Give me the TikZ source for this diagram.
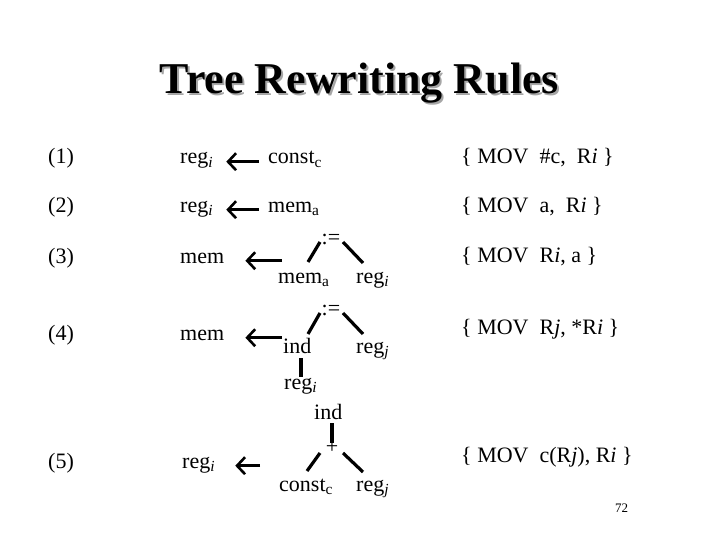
\documentclass[tikz,border=0pt]{standalone}
\usepackage{fontspec}
\setmainfont{Liberation Serif}
\usetikzlibrary{arrows.meta}
\newcommand{\sbi}[1]{\textsubscript{\itshape #1}}
\newcommand{\sbu}[1]{\textsubscript{#1}}
\begin{document}
\begin{tikzpicture}[x=1pt,y=-1pt,
  txt/.style={anchor=base west,inner sep=0pt,font=\fontsize{22}{26}\selectfont},
  op/.style={anchor=base,inner sep=0pt,font=\fontsize{22}{26}\selectfont},
  branch/.style={line width=3.2pt},
  larr/.style={line width=2.6pt,-{Straight Barb[length=8pt,width=17pt]}},
  ttl/.style={anchor=base,inner sep=0pt,font=\fontsize{44}{50}\selectfont\bfseries}]
\useasboundingbox (0,0) rectangle (720,540);
% title
\node[ttl,text=black!35] (tsh) at (361.5,95.5) {Tree Rewriting Rules};
\node[ttl] (title) at (359.5,93.5) {Tree Rewriting Rules};
% numbers
\node[txt] (n1) at (48,164) {(1)};
\node[txt] (n2) at (48,212) {(2)};
\node[txt] (n3) at (48,263) {(3)};
\node[txt] (n4) at (48,340) {(4)};
\node[txt] (n5) at (48,468) {(5)};
% row 1
\node[txt] (r1) at (180,164) {reg\sbi{i}};
\node[txt] (c1) at (268,164) {const\sbu{c}};
\draw[larr] ([xshift=-9pt]c1.mid west) -- ([xshift=13pt]r1.mid east);
% row 2
\node[txt] (r2) at (180,212) {reg\sbi{i}};
\node[txt] (m2) at (268,212) {mem\sbu{a}};
\draw[larr] ([xshift=-9pt]m2.mid west) -- ([xshift=13pt]r2.mid east);
% row 3
\node[txt] (m3) at (180,263) {mem};
\coordinate (a3) at (282,258);
\draw[larr] (a3 |- m3.mid east) -- ([xshift=21pt]m3.mid east);
\node[op] (as3) at (331,244) {:=};
\node[txt] (ma3) at (278,283) {mem\sbu{a}};
\node[txt] (ri3) at (356,283) {reg\sbi{i}};
\draw[branch] ([xshift=-11pt,yshift=2pt]as3.base) -- ([xshift=30pt,yshift=21pt]ma3.base west);
\draw[branch] ([xshift=12pt,yshift=2pt]as3.base) -- ([xshift=7pt,yshift=20pt]ri3.base west);
% row 4
\node[txt] (m4) at (180,340) {mem};
\coordinate (a4) at (282,335);
\draw[larr] (a4 |- m4.mid east) -- ([xshift=21pt]m4.mid east);
\node[op] (as4) at (331,315) {:=};
\node[txt] (in4) at (283,353) {ind};
\node[txt] (rj4) at (356,353) {reg\sbi{j}};
\draw[branch] ([xshift=-11pt,yshift=2pt]as4.base) -- ([xshift=25pt,yshift=19pt]in4.base west);
\draw[branch] ([xshift=12pt,yshift=2pt]as4.base) -- ([xshift=7pt,yshift=19pt]rj4.base west);
\node[txt] (ri4) at (284,389) {reg\sbi{i}};
\draw[branch] ([xshift=18pt,yshift=-5pt]in4.base west) -- ([xshift=17pt,yshift=12pt]ri4.base west);
\node[txt] (in5) at (314,419) {ind};
\node[op] (pl5) at (332,453) {+};
\draw[branch] ([xshift=18pt,yshift=-4pt]in5.base west) -- ([yshift=10pt]pl5.base);
% row 5
\node[txt] (r5) at (182,468) {reg\sbi{i}};
\coordinate (a5) at (260,462);
\draw[larr] (a5 |- r5.mid east) -- ([xshift=20pt]r5.mid east);
\node[txt] (cc5) at (279,491) {const\sbu{c}};
\node[txt] (rj5) at (356,491) {reg\sbi{j}};
\draw[branch] ([xshift=-12pt,yshift=0pt]pl5.base) -- ([xshift=28pt,yshift=20pt]cc5.base west);
\draw[branch] ([xshift=11pt,yshift=0pt]pl5.base) -- ([xshift=7pt,yshift=19pt]rj5.base west);
% right column
\node[txt] (i1) at (461,164) {\{ MOV~ \#c,~ R\textit{i} \}};
\node[txt] (i2) at (461,212) {\{ MOV~ a,~ R\textit{i} \}};
\node[txt] (i3) at (461,262) {\{ MOV~ R\textit{i}, a \}};
\node[txt] (i4) at (461,334) {\{ MOV~ R\textit{j}, *R\textit{i} \}};
\node[txt] (i5) at (461,462) {\{ MOV~ c(R\textit{j}), R\textit{i} \}};
\node[anchor=base west,inner sep=0pt,font=\fontsize{13}{15}\selectfont] (pg) at (615,512) {72};
\end{tikzpicture}
\end{document}
